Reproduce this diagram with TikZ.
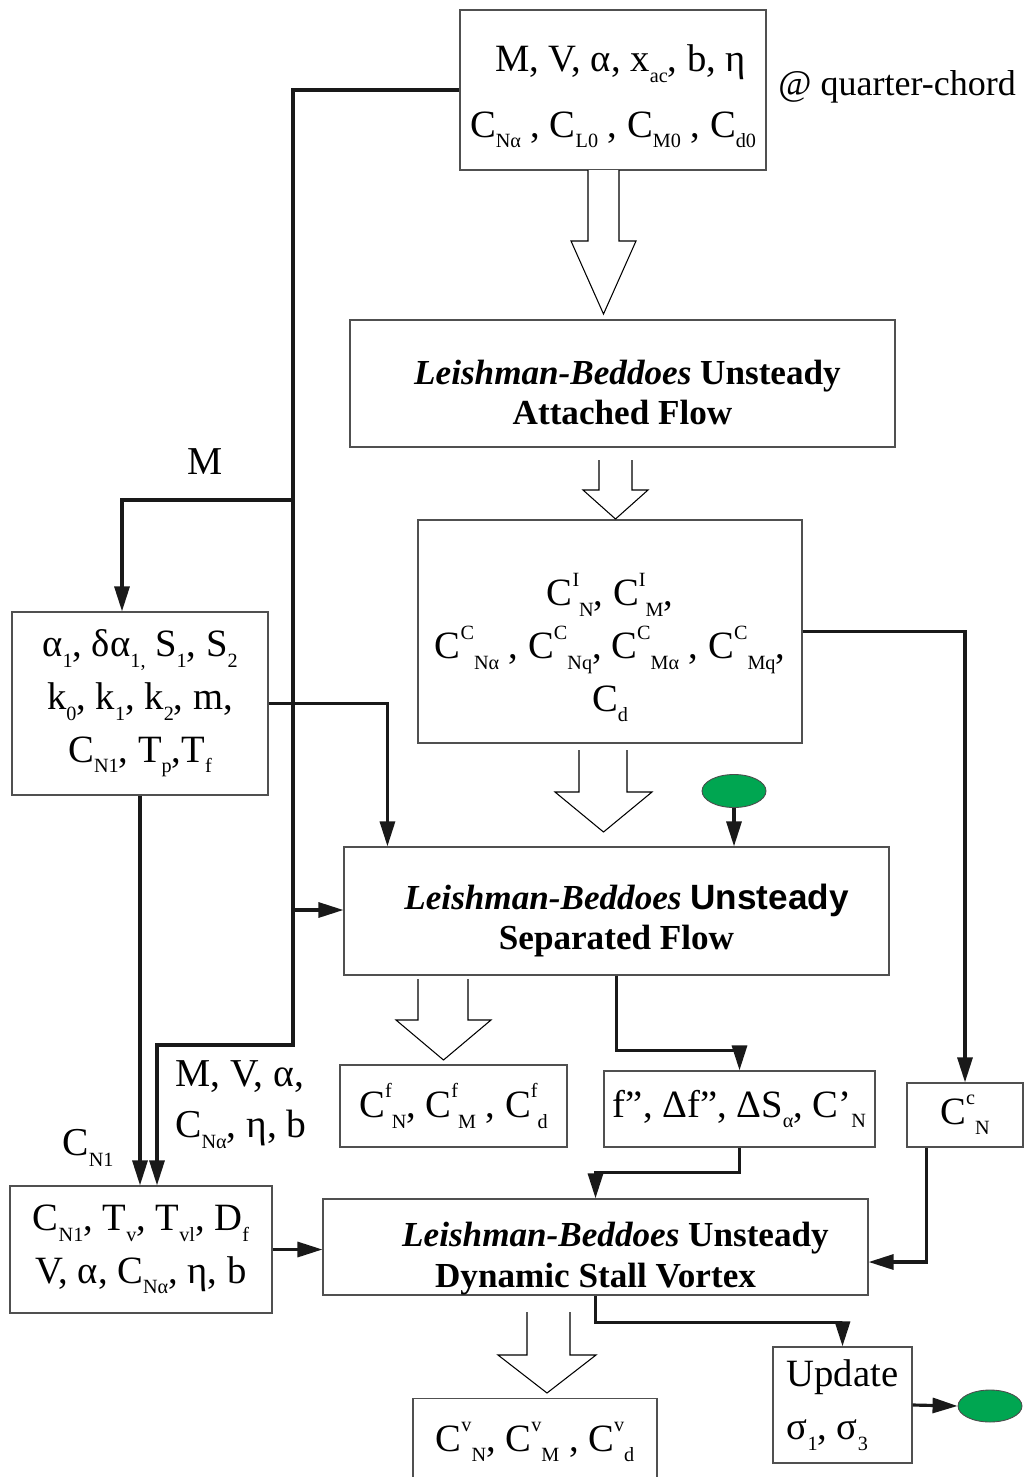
\documentclass[tikz,border=0pt]{standalone}
\usepackage{fontspec}
\setmainfont{Liberation Serif}
\setsansfont{Liberation Sans}
\usetikzlibrary{arrows.meta,calc,shapes.geometric}
\newcommand{\dn}[1]{\raisebox{-0.6ex}{\fontsize{11.5}{12}\selectfont #1}}
\newcommand{\hi}[1]{\raisebox{1.1ex}{\fontsize{11.5}{12}\selectfont #1}}
\definecolor{ovalgreen}{RGB}{0,166,81}
\definecolor{boxgray}{RGB}{80,80,80}
\tikzset{
  box/.style={draw=boxgray,line width=0.7pt,inner sep=0pt,align=center,
    font=\fontsize{22}{30}\selectfont},
  title/.style={box,font=\fontsize{20}{23}\selectfont\bfseries},
  lbl/.style={inner sep=0pt,font=\fontsize{22.5}{29}\selectfont},
  flow/.style={line width=1.8pt,draw=black!90,-{Triangle[length=0.5cm,width=0.3cm]}},
  hollow/.style={draw=black,line width=0.6pt,fill=white,line join=miter},
  oval/.style={ellipse,draw=black!70,line width=0.5pt,fill=ovalgreen,inner sep=0pt}
}

\begin{document}
\begin{tikzpicture}[x=0.02cm,y=-0.02cm]
	\useasboundingbox (0,0) rectangle (1024,1477);

	% boxes
	\node[box,minimum width=6.12cm,minimum height=3.2cm] (inp) at (613,90)
		{\rule{0pt}{0.8cm}\hspace*{0.3cm}M, V, α, x\dn{ac}, b, η\\[0.25cm]C\dn{Nα} , C\dn{L0} , C\dn{M0} , C\dn{d0}};
	\node[lbl,anchor=west,font=\fontsize{20.5}{24}\selectfont] (qc) at (778,87) {@ quarter-chord};
	\node[title,minimum width=10.9cm,minimum height=2.54cm] (att) at (622.5,383.5)
		{\rule{0pt}{0.85cm}\hspace*{0.2cm}\textit{Leishman-Beddoes} Unsteady\\Attached Flow};
	\node[box,minimum width=7.68cm,minimum height=4.46cm] (coef) at (610,631.5)
		{\rule{0pt}{1.3cm}C\hi{I}\dn{N}, C\hi{I}\dn{M},\\
		 C\hi{C}\dn{Nα} , C\hi{C}\dn{Nq}, C\hi{C}\dn{Mα} , C\hi{C}\dn{Mq},\\
		 C\dn{d}};
	\node[box,minimum width=5.12cm,minimum height=3.66cm] (par) at (140,703.5)
		{α\dn{1}, δα\dn{1,} S\dn{1}, S\dn{2}\\k\dn{0}, k\dn{1}, k\dn{2}, m,\\C\dn{N1}, T\dn{p},T\dn{f}};
	\node[title,minimum width=10.9cm,minimum height=2.56cm] (sep) at (616.5,911)
		{\rule{0pt}{0.9cm}\hspace*{0.4cm}\textit{Leishman-Beddoes} {\sffamily Unsteady}\\Separated Flow};
	\node[box,minimum width=4.54cm,minimum height=1.64cm] (cf) at (453.5,1106)
		{C\hi{f}\dn{N}, C\hi{f}\dn{M} , C\hi{f}\dn{d}};
	\node[box,minimum width=5.42cm,minimum height=1.52cm] (fpp) at (739.5,1109)
		{f”, Δf”, ΔS\dn{α}, C’\dn{N}};
	\node[box,minimum width=2.32cm,minimum height=1.28cm] (ccn) at (965,1115)
		{C\hi{c}\dn{N}};
	\node[box,minimum width=5.24cm,minimum height=2.54cm] (vtx) at (141,1249.5)
		{C\dn{N1}, T\dn{v}, T\dn{vl}, D\dn{f}\\V, α, C\dn{Nα}, η, b};
	\node[title,minimum width=10.9cm,minimum height=1.92cm] (dsv) at (595.5,1247)
		{\rule{0pt}{0.95cm}\hspace*{0.8cm}\textit{Leishman-Beddoes} Unsteady\\Dynamic Stall Vortex};
	\node[box,align=left,minimum width=2.78cm,minimum height=2.32cm] (upd) at (842.5,1405)
		{Update\\σ\dn{1}, σ\dn{3}};
	\node[box,anchor=north,minimum width=4.88cm,text height=1.05cm,text depth=1.1cm] (cv)
		at (535,1398) {C\hi{v}\dn{N}, C\hi{v}\dn{M} , C\hi{v}\dn{d}};
	\node[oval,minimum width=1.28cm,minimum height=0.66cm] (e1) at (734,791) {};
	\node[oval,minimum width=1.28cm,minimum height=0.64cm] (e2) at (990,1406) {};

	% hollow block arrows
	\foreach \ax/\bx/\ty/\ny/\cx/\dx/\py in {588/619/170/241/571/636/314,
		599/632/460/490/583/648/519, 579/627/750/792/555/652/832,
		418/468/979/1020/396/491/1060, 527/570/1312/1355/498/596/1393}
		\draw[hollow] (\ax,\ty) -- (\ax,\ny) -- (\cx,\ny) -- ({(\cx+\dx)/2},\py)
			-- (\dx,\ny) -- (\bx,\ny) -- (\bx,\ty);

	% connectors
	\coordinate (bus) at (293,1045);
	\coordinate (jm) at (293,500);
	\coordinate (js) at (293,910);
	\coordinate (mdrop) at (122,500);
	\draw[flow] (inp.west) -| (bus) -| ($(vtx.north)+(16,0)$);
	\draw[flow] (jm) -- (mdrop) -- (mdrop |- par.north);
	\node[lbl] (mlbl) at (205,462) {M};
	\draw[flow] (js) -- (js -| sep.west);
	\draw[flow] (par.east) -| ($(sep.north west)+(44,0)$);
	\draw[flow] (par.south) -- (par.south |- vtx.north);
	\node[lbl] (cnlbl) at (88,1148) {C\dn{N1}};
	\node[lbl,align=left] (vlbl) at (241,1105) {M, V, α,\\C\dn{Nα}, η, b};
	\draw[flow] (coef.east) -| (ccn.north);
	\draw[flow] (e1.south) -- (e1.south |- sep.north);
	\draw[flow] (sep.south) -- ++(0,75) -| (fpp.north);
	\draw[flow] (fpp.south) -- ++(0,25) -| (dsv.north);
	\draw[flow] ($(ccn.south west)+(20,0)$) |- ($(dsv.east)+(0,15)$);
	\draw[flow] (vtx.east) -- (vtx.east -| dsv.west);
	\draw[flow] (dsv.south) -- ++(0,27) -| (upd.north);
	\draw[flow] (upd.east) -- (e2.west);
\end{tikzpicture}
\end{document}
